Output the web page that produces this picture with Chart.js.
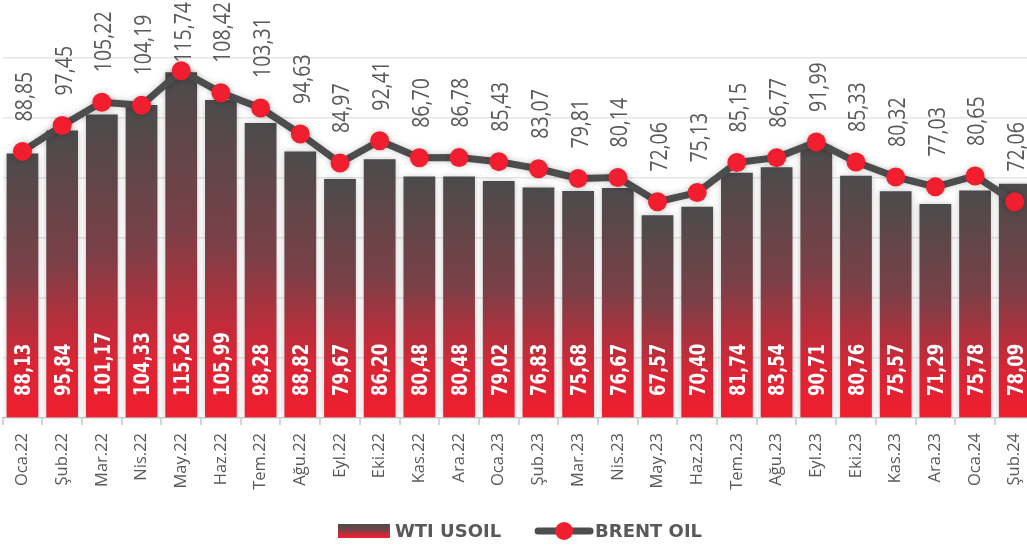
<!DOCTYPE html>
<html>
<head>
<meta charset="utf-8">
<script src="https://cdn.jsdelivr.net/npm/chart.js@4.4.1/dist/chart.umd.min.js"></script>
<style>
  html, body { margin: 0; padding: 0; overflow: hidden; background: #fff; }
  #wrap { width: 1040px; height: 547px; }
</style>
</head>
<body>
<div id="wrap"><canvas id="oil" width="1040" height="547"></canvas></div>
<script>
var months = ['Oca.22', 'Şub.22', 'Mar.22', 'Nis.22', 'May.22', 'Haz.22', 'Tem.22', 'Ağu.22', 'Eyl.22', 'Eki.22', 'Kas.22', 'Ara.22',
    'Oca.23', 'Şub.23', 'Mar.23', 'Nis.23', 'May.23', 'Haz.23', 'Tem.23', 'Ağu.23', 'Eyl.23', 'Eki.23', 'Kas.23', 'Ara.23',
    'Oca.24', 'Şub.24'];
var wti = [88.13, 95.84, 101.17, 104.33, 115.26, 105.99, 98.28, 88.82, 79.67, 86.20, 80.48, 80.48,
    79.02, 76.83, 75.68, 76.67, 67.57, 70.40, 81.74, 83.54, 90.71, 80.76, 75.57, 71.29, 75.78, 78.09];
var brent = [88.85, 97.45, 105.22, 104.19, 115.74, 108.42, 103.31, 94.63, 84.97, 92.41, 86.70, 86.78,
    85.43, 83.07, 79.81, 80.14, 72.06, 75.13, 85.15, 86.77, 91.99, 85.33, 80.32, 77.03, 80.65, 72.06];
var seriesNames = ['WTI USOIL', 'BRENT OIL'];

var DARK = '#4b4b4b';
var RED = '#f01e2e';
var TEXT = '#595959';

var fmt = function (v) {
    return v.toFixed(2).replace('.', ',');
};

var barGradient = function (ctx, top, bottom) {
    var g = ctx.createLinearGradient(0, top, 0, bottom);
    g.addColorStop(0, DARK);
    g.addColorStop(0.45, '#7a4047');
    g.addColorStop(0.8, '#da2535');
    g.addColorStop(1, RED);
    return g;
};

// shadow under bars and line
var glow = {
    id: 'glow',
    beforeDatasetDraw: function (chart) {
        var ctx = chart.ctx;
        ctx.save();
        ctx.shadowColor = 'rgba(0,0,0,0.22)';
        ctx.shadowBlur = 6;
    },
    afterDatasetDraw: function (chart) {
        chart.ctx.restore();
    }
};

// value labels, rotated, slightly tall glyphs like the original
var valueLabels = {
    id: 'valueLabels',
    afterDatasetsDraw: function (chart) {
        var ctx = chart.ctx;
        var base = chart.scales.y.getPixelForValue(0);

        chart.getDatasetMeta(0).data.forEach(function (bar, i) {
            ctx.save();
            ctx.translate(bar.x, base - 22);
            ctx.rotate(-Math.PI / 2);
            ctx.scale(1, 1.3);
            ctx.font = 'bold 16.5px "DejaVu Sans"';
            ctx.fillStyle = '#fff';
            ctx.textAlign = 'left';
            ctx.textBaseline = 'alphabetic';
            ctx.fillText(fmt(wti[i]), 0, 6);
            ctx.restore();
        });

        ctx.font = '19.5px "Open Sans"';
        chart.getDatasetMeta(1).data.forEach(function (pt, i) {
            var s = fmt(brent[i]);
            var len = ctx.measureText(s).width;
            // keep the label inside the plot, as the original does for the top value
            var start = Math.max(pt.y - 30, chart.chartArea.top + len + 2);
            ctx.save();
            ctx.translate(pt.x + 1, start);
            ctx.rotate(-Math.PI / 2);
            ctx.scale(1, 1.2);
            ctx.fillStyle = TEXT;
            ctx.textAlign = 'left';
            ctx.textBaseline = 'alphabetic';
            ctx.fillText(s, 0, 7);
            ctx.restore();
        });
    }
};

// legend at the bottom
var bottomLegend = {
    id: 'bottomLegend',
    afterDraw: function (chart) {
        var ctx = chart.ctx;
        var cy = 531;
        ctx.save();
        ctx.font = 'bold 18px "DejaVu Sans"';
        ctx.textBaseline = 'middle';
        var w1 = ctx.measureText(seriesNames[0]).width;
        var w2 = ctx.measureText(seriesNames[1]).width;
        var total = 52 + 5 + w1 + 34 + 58 + 2 + w2;
        var x = chart.width / 2 - total / 2;

        ctx.fillStyle = barGradient(ctx, cy - 7, cy + 7);
        ctx.fillRect(x, cy - 7, 52, 14);
        x += 57;
        ctx.fillStyle = TEXT;
        ctx.fillText(seriesNames[0], x, cy + 1);
        x += w1 + 34;

        ctx.strokeStyle = '#4d4d4d';
        ctx.lineWidth = 7;
        ctx.lineCap = 'round';
        ctx.beginPath();
        ctx.moveTo(x + 3, cy);
        ctx.lineTo(x + 55, cy);
        ctx.stroke();
        ctx.fillStyle = RED;
        ctx.beginPath();
        ctx.arc(x + 29, cy, 9, 0, Math.PI * 2);
        ctx.fill();
        x += 60;
        ctx.fillStyle = TEXT;
        ctx.fillText(seriesNames[1], x, cy + 1);
        ctx.restore();
    }
};

var config = {
    type: 'bar',
    data: {
        labels: months,
        datasets: [{
            type: 'bar',
            label: seriesNames[0],
            data: wti,
            order: 2,
            barPercentage: 0.8,
            categoryPercentage: 1,
            backgroundColor: function (c) {
                var chart = c.chart;
                if (c.type !== 'data' || !chart.chartArea) {
                    return DARK;
                }
                var y = chart.scales.y;
                return barGradient(chart.ctx, y.getPixelForValue(c.raw), y.getPixelForValue(0));
            }
        }, {
            type: 'line',
            label: seriesNames[1],
            data: brent,
            order: 1,
            borderColor: '#4d4d4d',
            borderWidth: 7,
            borderJoinStyle: 'round',
            tension: 0,
            clip: false,
            pointRadius: 9.5,
            pointBorderWidth: 0,
            pointBackgroundColor: RED,
            pointHoverRadius: 9.5
        }]
    },
    options: {
        responsive: false,
        animation: false,
        events: [],
        layout: {
            autoPadding: false,
            padding: { left: 2.6, right: 5.4, top: 0, bottom: 0 }
        },
        plugins: {
            legend: { display: false },
            tooltip: { enabled: false }
        },
        scales: {
            x: {
                offset: true,
                afterFit: function (scale) {
                    scale.height = 129;
                    scale.paddingLeft = 0;
                    scale.paddingRight = 0;
                },
                grid: {
                    drawOnChartArea: false,
                    tickLength: 7,
                    color: '#d3d3d3',
                    lineWidth: 2
                },
                border: { color: '#c9c9c9', width: 1.5 },
                ticks: {
                    autoSkip: false,
                    minRotation: 90,
                    maxRotation: 90,
                    padding: 8,
                    color: TEXT,
                    font: { family: '"Open Sans"', size: 16.5 }
                }
            },
            y: {
                min: 0,
                max: 139.3,
                afterFit: function (scale) {
                    scale.width = 0;
                },
                border: { display: false },
                grid: {
                    drawTicks: false,
                    lineWidth: 1.5,
                    color: function (c) {
                        return c.tick.value % 20 === 0 && c.tick.value > 0 ? '#e6e6e6' : 'rgba(0,0,0,0)';
                    }
                },
                ticks: { display: false, stepSize: 20 }
            }
        }
    },
    plugins: [glow, valueLabels, bottomLegend]
};

window.onload = function () {
    var ctx = document.getElementById('oil').getContext('2d');
    window.oilChart = new Chart(ctx, config);
};
</script>
</body>
</html>
